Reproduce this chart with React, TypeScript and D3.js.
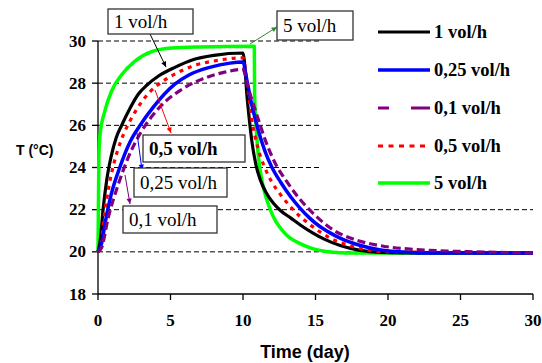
import React from "react";
import * as d3 from "d3";

const yTicks = [18, 20, 22, 24, 26, 28, 30];
const xTicks = [0, 5, 10, 15, 20, 25, 30];
const gridValues = [20, 22, 24, 26, 28, 30];

const timeBlack = [0, 0.15, 0.35, 0.6, 0.9, 1.25, 1.63, 2.2, 2.8, 3.36, 4.2, 5.3, 6.5, 8, 10, 10.3, 10.6, 10.9, 11.2, 11.6, 12.1, 12.6, 13.3, 14.0, 14.8, 15.6, 16.7, 18, 19.5, 21, 30];
const tempBlack = [20, 20.5, 22.0, 23.4, 24.5, 25.4, 26.0, 26.8, 27.5, 27.9, 28.35, 28.75, 29.1, 29.32, 29.43, 27.2, 25.3, 24.1, 23.4, 22.8, 22.3, 21.95, 21.6, 21.25, 20.9, 20.6, 20.3, 20.08, 19.97, 19.95, 19.95];

const timeBlue = [0, 0.25, 0.5, 0.9, 1.5, 2.2, 2.9, 3.8, 5.3, 6.3, 7.7, 9.1, 10, 10.25, 10.6, 11.0, 11.5, 12.0, 12.6, 13.3, 13.9, 14.6, 15.3, 16.0, 16.7, 18.1, 19.4, 20.8, 22, 30];
const tempBlue = [20, 20.4, 21.4, 22.7, 24.0, 25.2, 26.0, 26.85, 27.95, 28.4, 28.75, 28.95, 29.0, 28.2, 27.0, 25.9, 24.8, 24.0, 23.3, 22.6, 22.1, 21.6, 21.2, 20.9, 20.65, 20.3, 20.1, 20.0, 19.95, 19.95];

const timePurple = [0, 0.25, 0.7, 1.4, 2.1, 2.9, 3.8, 4.6, 5.65, 7.2, 8.6, 10, 10.35, 11.0, 11.7, 12.3, 13.0, 13.8, 14.8, 16.2, 17.85, 19.4, 21.7, 24, 26, 30];
const tempPurple = [20, 20.2, 21.6, 23.2, 24.5, 25.6, 26.5, 27.1, 27.65, 28.2, 28.5, 28.65, 27.8, 26.4, 25.0, 24.1, 23.35, 22.6, 21.85, 21.05, 20.55, 20.3, 20.12, 20.04, 20.0, 19.95];

const timeRed = [0, 0.2, 0.45, 0.75, 1.1, 1.6, 2.2, 2.9, 3.6, 4.5, 5.5, 6.7, 8, 10, 10.3, 10.6, 11.0, 11.5, 12.0, 12.55, 13.2, 13.9, 14.6, 15.3, 16.0, 16.7, 18.3, 20, 30];
const tempRed = [20, 20.4, 21.8, 23.1, 24.2, 25.3, 26.2, 27.0, 27.6, 28.1, 28.5, 28.85, 29.05, 29.2, 27.9, 26.3, 25.0, 24.0, 23.3, 22.75, 22.2, 21.7, 21.3, 20.95, 20.65, 20.45, 20.12, 20.0, 19.95];

const timeGreen = [0, 0.06, 0.14, 0.48, 0.94, 1.63, 2.55, 3.7, 5.1, 7, 10.78, 10.8, 10.9, 11.05, 11.25, 11.5, 11.8, 12.1, 12.55, 13.0, 13.9, 14.6, 15.3, 16.2, 17.2, 30];
const tempGreen = [20, 24.5, 25.55, 26.7, 27.63, 28.4, 29.05, 29.5, 29.67, 29.72, 29.75, 27.5, 26.0, 24.6, 23.6, 22.8, 22.15, 21.65, 21.15, 20.8, 20.4, 20.2, 20.07, 19.98, 19.95, 19.93];

const seriesNames = ["1 vol/h", "0,25 vol/h", "0,1 vol/h", "0,5 vol/h", "5 vol/h"];

const W = 542, H = 363;
const M = { left: 98, right: 533, top: 41, bottom: 294 };

export default function App() {
  const x = d3.scaleLinear().domain([0, 30]).range([M.left, M.right]);
  const y = d3.scaleLinear().domain([18, 30]).range([M.bottom, M.top]);
  const line = d3
    .line<[number, number]>()
    .x((d) => x(d[0]))
    .y((d) => y(d[1]))
    .curve(d3.curveMonotoneX);
  const zip = (t: number[], v: number[]) => t.map((ti, i) => [ti, v[i]] as [number, number]);

  const series = [
    { name: seriesNames[0], data: zip(timeBlack, tempBlack), color: "#000000", width: 3.2, dash: "", legendDash: "" },
    { name: seriesNames[1], data: zip(timeBlue, tempBlue), color: "#0000ff", width: 3.5, dash: "", legendDash: "" },
    { name: seriesNames[2], data: zip(timePurple, tempPurple), color: "#800080", width: 3.2, dash: "8,4", legendDash: "11,22,19,0" },
    { name: seriesNames[3], data: zip(timeRed, tempRed), color: "#ff0000", width: 3.2, dash: "4,5", legendDash: "5,5.5" },
    { name: seriesNames[4], data: zip(timeGreen, tempGreen), color: "#00ff00", width: 3.5, dash: "", legendDash: "" },
  ];
  const drawOrder = [4, 0, 3, 1, 2];

  const serif = "'Liberation Serif', 'Times New Roman', serif";
  const sans = "'Liberation Sans', Arial, sans-serif";
  const legendY = [32, 70, 108, 146, 183];

  const callouts = [
    { text: "1 vol/h", x0: 108, y0: 9, w: 85, h: 25, bold: false, color: "#000000", from: [150, 34], to: [166, 67] },
    { text: "5 vol/h", x0: 277, y0: 11, w: 76, h: 29, bold: false, color: "#2e8b2e", from: [250, 44], to: [277, 27] },
    { text: "0,5 vol/h", x0: 143, y0: 135, w: 102, h: 27, bold: true, color: "#ff0000", from: [155, 90], to: [171, 133] },
    { text: "0,25 vol/h", x0: 134, y0: 168, w: 93, h: 29, bold: false, color: "#0000ff", from: [137, 133], to: [142, 170] },
    { text: "0,1 vol/h", x0: 123, y0: 206, w: 94, h: 27, bold: false, color: "#800080", from: [125, 175], to: [130, 204] },
  ];

  const arrowHead = (from: number[], to: number[]) => {
    const a = Math.atan2(to[1] - from[1], to[0] - from[0]);
    const L = 6, s = 0.45;
    const p1 = [to[0] - L * Math.cos(a - s), to[1] - L * Math.sin(a - s)];
    const p2 = [to[0] - L * Math.cos(a + s), to[1] - L * Math.sin(a + s)];
    return `M${to[0]},${to[1]}L${p1[0]},${p1[1]}L${p2[0]},${p2[1]}Z`;
  };

  return (
    <svg width={W} height={H} style={{ position: "absolute", left: 0, top: 0, background: "#fff" }}>
      <rect x={0} y={0} width={W} height={H} fill="#fff" />
      {gridValues.map((v) => (
        <line key={v} x1={M.left} x2={M.right} y1={y(v)} y2={y(v)} stroke="#000" strokeWidth={1} strokeDasharray="5,3" />
      ))}
      <rect x={322} y={0} width={220} height={196} fill="#fff" />
      <line x1={M.left} x2={M.left} y1={M.top} y2={M.bottom} stroke="#000" strokeWidth={1.3} />
      <line x1={M.left} x2={M.right} y1={M.bottom} y2={M.bottom} stroke="#000" strokeWidth={1.3} />
      {yTicks.map((v) => (
        <g key={v}>
          <line x1={M.left - 6} x2={M.left} y1={y(v)} y2={y(v)} stroke="#000" strokeWidth={1.3} />
          <text x={86} y={y(v) + 5.5} textAnchor="end" fontFamily={serif} fontWeight="bold" fontSize={17}>
            {v}
          </text>
        </g>
      ))}
      {xTicks.map((v) => (
        <g key={v}>
          <line x1={x(v)} x2={x(v)} y1={M.bottom} y2={M.bottom + 6} stroke="#000" strokeWidth={1.3} />
          <text x={x(v)} y={326} textAnchor="middle" fontFamily={serif} fontWeight="bold" fontSize={17}>
            {v}
          </text>
        </g>
      ))}
      <text x={16} y={155} fontFamily={sans} fontWeight="bold" fontSize={14}>
        T (°C)
      </text>
      <text x={305} y={358} textAnchor="middle" fontFamily={sans} fontWeight="bold" fontSize={18}>
        Time (day)
      </text>
      {drawOrder.map((i) => {
        const s = series[i];
        return (
          <path
            key={s.name}
            d={line(s.data) || ""}
            fill="none"
            stroke={s.color}
            strokeWidth={s.width}
            strokeDasharray={s.dash || undefined}
            strokeLinejoin="round"
          />
        );
      })}
      {callouts.map((c) => (
        <g key={c.text}>
          <line x1={c.from[0]} y1={c.from[1]} x2={c.to[0]} y2={c.to[1]} stroke={c.color} strokeWidth={1} />
          <path d={arrowHead(c.from, c.to)} fill={c.color} />
          <rect x={c.x0} y={c.y0} width={c.w} height={c.h} fill="#fff" stroke="#333" strokeWidth={1.3} />
          <text
            x={c.x0 + 6}
            y={c.y0 + c.h / 2 + 6.5}
            fontFamily={serif}
            fontWeight={c.bold ? "bold" : "normal"}
            fontSize={19}
          >
            {c.text}
          </text>
        </g>
      ))}
      {series.map((s, i) => (
        <g key={s.name}>
          <line
            x1={378}
            x2={430}
            y1={legendY[i]}
            y2={legendY[i]}
            stroke={s.color}
            strokeWidth={s.width}
            strokeDasharray={s.legendDash || undefined}
          />
          <text x={434} y={legendY[i] + 6} fontFamily={serif} fontWeight="bold" fontSize={18.5}>
            {s.name}
          </text>
        </g>
      ))}
    </svg>
  );
}
